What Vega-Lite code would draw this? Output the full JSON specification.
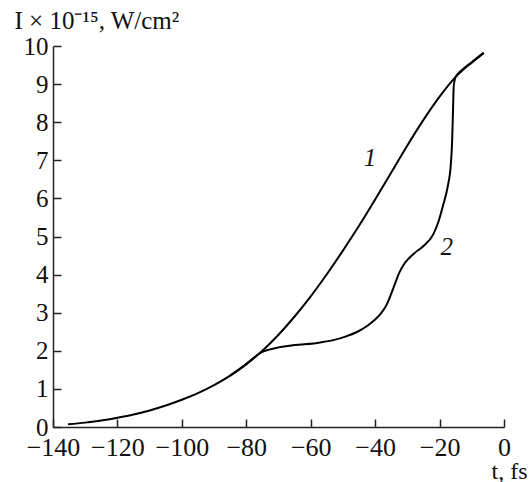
{
  "$schema": "https://vega.github.io/schema/vega-lite/v6.json",
  "width": 451,
  "height": 381,
  "autosize": "none",
  "padding": {"left": 53, "top": 46, "right": 25, "bottom": 55},
  "background": "white",
  "config": {
    "view": {"stroke": null},
    "font": "Liberation Serif",
    "axis": {
      "grid": false,
      "domainColor": "#222",
      "domainWidth": 1.5,
      "tickColor": "#222",
      "tickWidth": 1.5,
      "tickSize": -8,
      "labelFont": "Liberation Serif",
      "labelColor": "#111",
      "labelOverlap": false,
      "titleFont": "Liberation Serif",
      "titleFontSize": 25,
      "titleFontWeight": "normal",
      "titleColor": "#111"
    }
  },
  "datasets": {
    "curves": [
      {"t": -135.3, "I": 0.07, "c": "1"},
      {"t": -130, "I": 0.115, "c": "1"},
      {"t": -125, "I": 0.17, "c": "1"},
      {"t": -120, "I": 0.245, "c": "1"},
      {"t": -115, "I": 0.33, "c": "1"},
      {"t": -110, "I": 0.435, "c": "1"},
      {"t": -105, "I": 0.565, "c": "1"},
      {"t": -100, "I": 0.715, "c": "1"},
      {"t": -95, "I": 0.89, "c": "1"},
      {"t": -90, "I": 1.1, "c": "1"},
      {"t": -85, "I": 1.35, "c": "1"},
      {"t": -80, "I": 1.65, "c": "1"},
      {"t": -75, "I": 2.0, "c": "1"},
      {"t": -70, "I": 2.42, "c": "1"},
      {"t": -65, "I": 2.9, "c": "1"},
      {"t": -60, "I": 3.43, "c": "1"},
      {"t": -55, "I": 4.01, "c": "1"},
      {"t": -50, "I": 4.63, "c": "1"},
      {"t": -45, "I": 5.28, "c": "1"},
      {"t": -40, "I": 5.97, "c": "1"},
      {"t": -35, "I": 6.68, "c": "1"},
      {"t": -30, "I": 7.39, "c": "1"},
      {"t": -25, "I": 8.06, "c": "1"},
      {"t": -20, "I": 8.67, "c": "1"},
      {"t": -15, "I": 9.19, "c": "1"},
      {"t": -10, "I": 9.57, "c": "1"},
      {"t": -6.3, "I": 9.82, "c": "1"},

      {"t": -85, "I": 1.35, "c": "2"},
      {"t": -80, "I": 1.65, "c": "2"},
      {"t": -77.5, "I": 1.83, "c": "2"},
      {"t": -75.5, "I": 1.95, "c": "2"},
      {"t": -73, "I": 2.03, "c": "2"},
      {"t": -70, "I": 2.09, "c": "2"},
      {"t": -66, "I": 2.14, "c": "2"},
      {"t": -62, "I": 2.17, "c": "2"},
      {"t": -57, "I": 2.22, "c": "2"},
      {"t": -53, "I": 2.28, "c": "2"},
      {"t": -49, "I": 2.38, "c": "2"},
      {"t": -45.5, "I": 2.5, "c": "2"},
      {"t": -42.5, "I": 2.65, "c": "2"},
      {"t": -40, "I": 2.82, "c": "2"},
      {"t": -38, "I": 3.0, "c": "2"},
      {"t": -36.5, "I": 3.2, "c": "2"},
      {"t": -35, "I": 3.5, "c": "2"},
      {"t": -33.8, "I": 3.77, "c": "2"},
      {"t": -32.5, "I": 4.05, "c": "2"},
      {"t": -31, "I": 4.28, "c": "2"},
      {"t": -29.5, "I": 4.43, "c": "2"},
      {"t": -28, "I": 4.55, "c": "2"},
      {"t": -25, "I": 4.75, "c": "2"},
      {"t": -22, "I": 5.05, "c": "2"},
      {"t": -20.3, "I": 5.4, "c": "2"},
      {"t": -18.8, "I": 5.85, "c": "2"},
      {"t": -17.5, "I": 6.3, "c": "2"},
      {"t": -16.5, "I": 6.9, "c": "2"},
      {"t": -16.1, "I": 7.5, "c": "2"},
      {"t": -15.8, "I": 8.4, "c": "2"},
      {"t": -15.6, "I": 8.95, "c": "2"},
      {"t": -15.1, "I": 9.17, "c": "2"},
      {"t": -14.3, "I": 9.27, "c": "2"},
      {"t": -12.5, "I": 9.41, "c": "2"},
      {"t": -10, "I": 9.57, "c": "2"},
      {"t": -6.3, "I": 9.82, "c": "2"}
    ],
    "labels": [
      {"t": -41.6, "I": 7.05, "label": "1"},
      {"t": -17.8, "I": 4.73, "label": "2"}
    ]
  },
  "encoding": {
    "x": {
      "field": "t", "type": "quantitative",
      "scale": {"domain": [-140, 0], "nice": false, "zero": false},
      "axis": {
        "values": [-140, -120, -100, -80, -60, -40, -20, 0],
        "labelExpr": "replace(datum.label, '-', '−')",
        "labelFontSize": 26,
        "labelPadding": 15,
        "labelFlush": false,
        "title": "t, fs",
        "titleFontSize": 24,
        "titleAlign": "right",
        "titleBaseline": "alphabetic",
        "titleAnchor": null,
        "titleX": 474,
        "titleY": 51
      }
    },
    "y": {
      "field": "I", "type": "quantitative",
      "scale": {"domain": [0, 10], "nice": false, "zero": false},
      "axis": {
        "values": [0, 1, 2, 3, 4, 5, 6, 7, 8, 9, 10],
        "tickCount": 11,
        "labelFontSize": 25,
        "labelPadding": 13,
        "labelFlush": false,
        "labelOverlap": false,
        "title": "I × 10⁻¹⁵, W/cm²",
        "titleAngle": 0,
        "titleAlign": "left",
        "titleBaseline": "alphabetic",
        "titleAnchor": null,
        "titleX": -39,
        "titleY": -18
      }
    }
  },
  "layer": [
    {
      "data": {"name": "curves"},
      "mark": {"type": "line", "interpolate": "monotone", "color": "black", "strokeWidth": 2},
      "encoding": {
        "detail": {"field": "c", "type": "nominal"}
      }
    },
    {
      "data": {"name": "labels"},
      "mark": {"type": "text", "font": "Liberation Serif", "fontStyle": "italic", "fontSize": 25, "color": "#111", "align": "center", "baseline": "middle"},
      "encoding": {
        "text": {"field": "label", "type": "nominal"}
      }
    }
  ]
}
